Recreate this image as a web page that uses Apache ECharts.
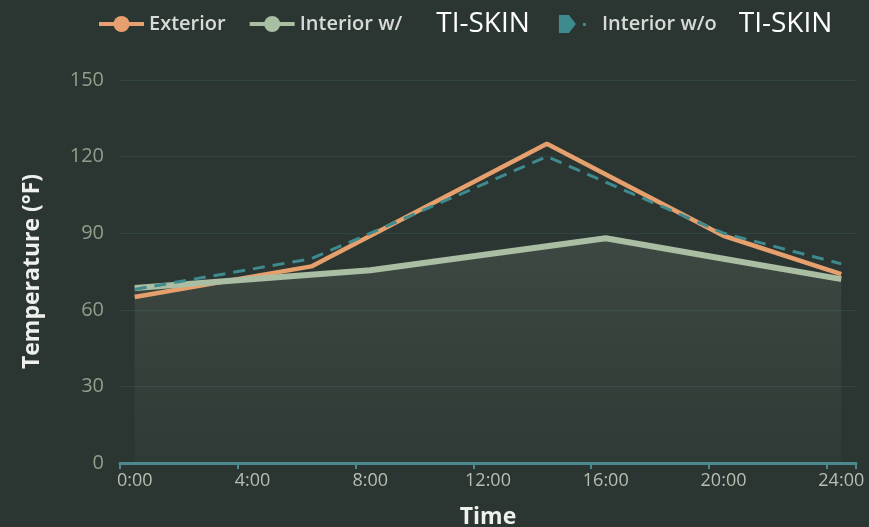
<!DOCTYPE html>
<html>
<head>
<meta charset="utf-8">
<script src="https://cdn.jsdelivr.net/npm/echarts@6/dist/echarts.min.js"></script>
<style>
  html, body { margin: 0; padding: 0; background: #2b3532; }
  #box { width: 869px; height: 527px; }
</style>
</head>
<body>
<div id="box"></div>
<script>
  // hours of day and temperatures (°F)
  const seriesNames = ['Exterior', 'Interior w/ TI-SKIN', 'Interior w/o TI-SKIN'];
  const exteriorHours = [0, 6, 14, 20, 24];
  const exteriorTemps = [65, 77, 125, 89, 74];
  const skinHours = [0, 8, 16, 20, 24];
  const skinTemps = [68.5, 75.5, 88, 80, 72];
  const noSkinHours = [0, 6, 14, 20, 24];
  const noSkinTemps = [68, 80, 120, 90, 78];
  const labelHours = [0, 4, 8, 12, 16, 20, 24];
  const tickHours = [-0.5, 3.5, 7.5, 11.5, 15.5, 19.5, 23.5, 24.5];

  const pairs = (xs, ys) => xs.map((x, i) => [x, ys[i]]);

  const chart = echarts.init(document.getElementById('box'));
  chart.setOption({
    backgroundColor: '#2b3532',
    animation: false,
    legend: {
      left: 92,
      top: 5,
      itemWidth: 45,
      itemHeight: 20,
      itemGap: 22,
      lineStyle: { width: 4 },
      textStyle: {
        fontFamily: 'Open Sans',
        fontSize: 20,
        fontWeight: 600,
        color: '#d8dbd5',
        rich: {
          a: { fontFamily: 'Open Sans', fontSize: 20, fontWeight: 600, color: '#d8dbd5' },
          b: { fontFamily: 'Open Sans', fontSize: 28, fontWeight: 'normal', color: '#ffffff', padding: [0, 0, 0, 34] },
          d: { fontFamily: 'Open Sans', fontSize: 28, fontWeight: 'normal', color: '#ffffff', padding: [0, 0, 0, 22] },
        },
      },
      formatter: function (name) {
        const k = name.indexOf('TI-SKIN');
        if (k < 0) return name;
        const tag = name.indexOf('w/o') >= 0 ? 'd' : 'b';
        return '{a|' + name.slice(0, k).trim() + '}{' + tag + '|TI-SKIN}';
      },
      data: [
        { name: seriesNames[0] },
        { name: seriesNames[1] },
        {
          name: seriesNames[2],
          icon: 'path://M0,0 M45,20 M7,1 L17,1 L24,10 L17,19 L7,19 Z M31,9 L34,9 L34,12 L31,12 Z',
          itemStyle: { color: '#3f8a8f' },
        },
      ],
    },
    grid: {
      left: 120,
      right: 13,
      top: 80,
      bottom: 64,
      outerBoundsMode: 'none',
    },
    xAxis: {
      type: 'value',
      min: -0.5,
      max: 24.5,
      name: 'Time',
      nameLocation: 'middle',
      nameGap: 43,
      nameTextStyle: { color: '#eef0ec', fontSize: 23, fontWeight: 'bold', fontFamily: 'Open Sans' },
      axisLine: { show: true, lineStyle: { color: '#4a8a8e', width: 3 } },
      axisTick: { show: true, customValues: tickHours, length: 6, lineStyle: { color: '#4a8a8e', width: 2 } },
      axisLabel: {
        customValues: labelHours,
        formatter: (v) => v + ':00',
        color: '#b7bfb0',
        fontSize: 18,
        fontFamily: 'Open Sans',
        margin: 9,
      },
      splitLine: { show: false },
    },
    yAxis: {
      type: 'value',
      min: 0,
      max: 150,
      interval: 30,
      name: 'Temperature (°F)',
      nameLocation: 'middle',
      nameGap: 76,
      nameTextStyle: { color: '#eef0ec', fontSize: 23, fontWeight: 'bold', fontFamily: 'Open Sans' },
      axisLine: { show: false },
      axisTick: { show: false },
      axisLabel: { color: '#929e8c', fontSize: 20, fontFamily: 'Open Sans', margin: 16 },
      splitLine: { lineStyle: { color: 'rgba(70, 140, 135, 0.18)', width: 1 } },
    },
    series: [
      {
        name: seriesNames[0],
        type: 'line',
        data: pairs(exteriorHours, exteriorTemps),
        showSymbol: false,
        symbol: 'circle',
        color: '#e6a06e',
        lineStyle: { color: '#e6a06e', width: 4.5 },
      },
      {
        name: seriesNames[1],
        type: 'line',
        data: pairs(skinHours, skinTemps),
        showSymbol: false,
        symbol: 'circle',
        color: '#a9bea2',
        lineStyle: { color: '#a9bea2', width: 6 },
        areaStyle: {
          color: new echarts.graphic.LinearGradient(0, 0, 0, 1, [
            { offset: 0, color: 'rgba(169, 190, 162, 0.2)' },
            { offset: 1, color: 'rgba(169, 190, 162, 0.05)' },
          ]),
        },
      },
      {
        name: seriesNames[2],
        type: 'line',
        data: pairs(noSkinHours, noSkinTemps),
        showSymbol: false,
        color: '#3f8a8f',
        lineStyle: { color: '#3f8a8f', width: 3, type: [12, 8] },
      },
    ],
  });
</script>
</body>
</html>
